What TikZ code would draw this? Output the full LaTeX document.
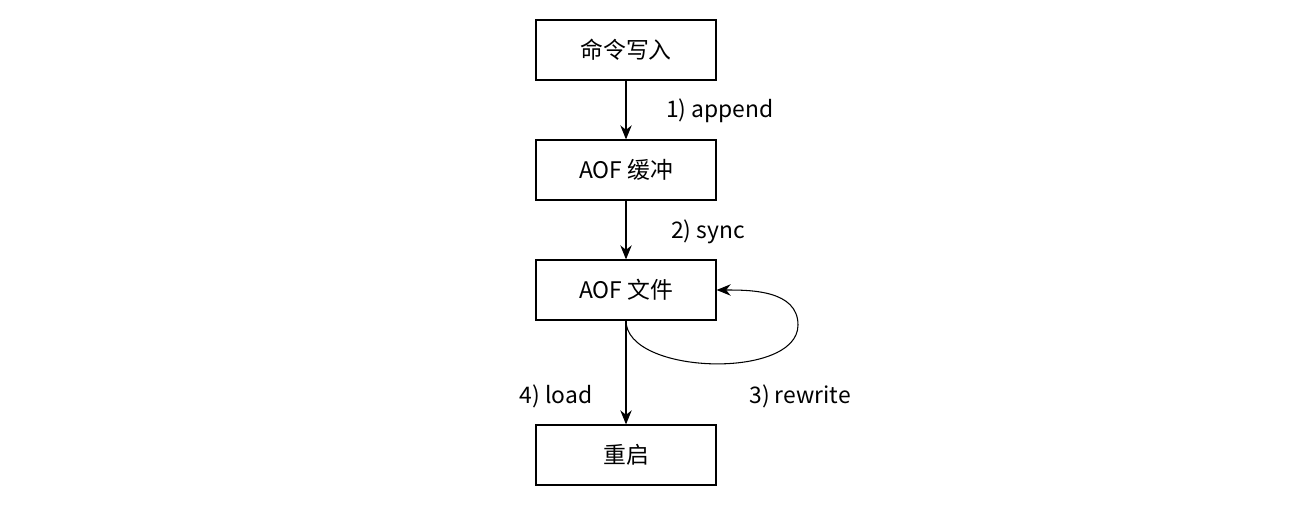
\documentclass[tikz,border=0pt]{standalone}
\usepackage{fontspec}
\setmainfont{Noto Sans CJK SC}
\usepackage{tikz}
\usetikzlibrary{arrows.meta}

\begin{document}
\begin{tikzpicture}[font=\fontsize{13}{15}\selectfont]
      \useasboundingbox (0,0) rectangle (26.04,10.1);
      \tikzset{stage/.style={draw,line width=0.7pt,minimum width=3.6cm,minimum height=1.2cm,inner sep=0pt},
               flow/.style={-{Stealth[length=8pt,width=6.5pt]},line width=0.6pt}}

      \node[stage] (cmd) at (12.52,9.1) {命令写入};
      \node[stage] (buf) at (12.52,6.7) {AOF 缓冲};
      \node[stage] (aof) at (12.52,4.3) {AOF 文件};
      \node[stage] (restart) at (12.52,1.0) {重启};

      \node (l1) at (14.4,7.88) {1) append};
      \node (l2) at (14.16,5.46) {2) sync};
      \node (l3) at (16.0,2.18) {3) rewrite};
      \node (l4) at (11.12,2.18) {4) load};

      \coordinate (loop) at (15.96,3.6);

      \path[flow] (cmd) edge (buf) (buf) edge (aof) (aof) edge (restart);
      \draw[flow] (aof.south) .. controls (12.52,2.6) and (15.96,2.5) .. (loop)
        .. controls (15.96,4.3) and (15.0,4.3) .. (aof.east);
    \end{tikzpicture}
\end{document}
